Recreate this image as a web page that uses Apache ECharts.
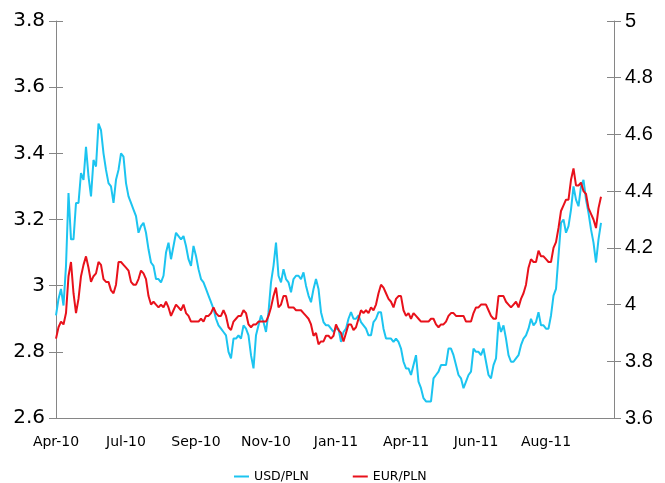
<!DOCTYPE html>
<html>
<head>
<meta charset="utf-8">
<script src="https://cdn.jsdelivr.net/npm/echarts@6/dist/echarts.min.js"></script>
<style>
  html, body { margin: 0; padding: 0; background: #fff; }
  #chart { width: 665px; height: 483px; }
</style>
</head>
<body>
<div id="chart"></div>
<script>
// Month labels shown along the date axis (one every 28 samples)
const tickLabels = ['Apr-10', 'Jul-10', 'Sep-10', 'Nov-10', 'Jan-11', 'Apr-11', 'Jun-11', 'Aug-11'];
const samplesPerLabel = 28;

// USD/PLN fixing, left axis
const usdPln = [
  2.91, 2.96, 2.99, 2.94, 3.06, 3.28, 3.14, 3.14, 3.25, 3.25,
  3.34, 3.32, 3.42, 3.33, 3.27, 3.38, 3.36, 3.49, 3.47, 3.40,
  3.35, 3.31, 3.30, 3.25, 3.32, 3.35, 3.40, 3.39, 3.31, 3.27,
  3.25, 3.23, 3.21, 3.16, 3.18, 3.19, 3.16, 3.11, 3.07, 3.06,
  3.02, 3.02, 3.01, 3.03, 3.10, 3.13, 3.08, 3.12, 3.16, 3.15,
  3.14, 3.15, 3.12, 3.08, 3.06, 3.12, 3.09, 3.05, 3.02, 3.01,
  2.99, 2.97, 2.95, 2.93, 2.90, 2.88, 2.87, 2.86, 2.85, 2.80,
  2.78, 2.84, 2.84, 2.85, 2.84, 2.88, 2.87, 2.85, 2.79, 2.75,
  2.85, 2.88, 2.91, 2.89, 2.86, 2.92, 3.01, 3.06, 3.13, 3.03,
  3.01, 3.05, 3.02, 3.01, 2.98, 3.02, 3.03, 3.03, 3.02, 3.04,
  3.00, 2.97, 2.95, 2.99, 3.02, 2.99, 2.92, 2.89, 2.88, 2.88,
  2.87, 2.86, 2.87, 2.87, 2.83, 2.86, 2.87, 2.90, 2.92, 2.90,
  2.90, 2.91, 2.89, 2.88, 2.87, 2.85, 2.85, 2.89, 2.90, 2.92,
  2.92, 2.87, 2.84, 2.84, 2.84, 2.83, 2.84, 2.83, 2.81, 2.77,
  2.75, 2.75, 2.73, 2.76, 2.79, 2.71, 2.69, 2.66, 2.65, 2.65,
  2.65, 2.72, 2.73, 2.74, 2.76, 2.76, 2.76, 2.81, 2.81, 2.79,
  2.76, 2.73, 2.72, 2.69, 2.71, 2.73, 2.74, 2.81, 2.80, 2.80,
  2.79, 2.81, 2.77, 2.73, 2.72, 2.76, 2.78, 2.89, 2.86, 2.88,
  2.84, 2.79, 2.77, 2.77, 2.78, 2.79, 2.82, 2.84, 2.85, 2.87,
  2.90, 2.88, 2.89, 2.92, 2.88, 2.88, 2.87, 2.87, 2.91, 2.97,
  2.99, 3.09, 3.19, 3.20, 3.16, 3.18, 3.23, 3.30, 3.26, 3.24,
  3.30, 3.32, 3.26, 3.22, 3.17, 3.13, 3.07, 3.14, 3.19
];

// EUR/PLN fixing, right axis
const eurPln = [
  3.88, 3.92, 3.94, 3.93, 3.97, 4.10, 4.15, 4.04, 3.97, 4.02,
  4.10, 4.14, 4.17, 4.13, 4.08, 4.10, 4.11, 4.15, 4.14, 4.09,
  4.08, 4.08, 4.05, 4.04, 4.07, 4.15, 4.15, 4.14, 4.13, 4.12,
  4.08, 4.07, 4.07, 4.09, 4.12, 4.11, 4.09, 4.03, 4.00, 4.01,
  4.00, 3.99, 4.00, 3.99, 4.01, 3.99, 3.96, 3.98, 4.00, 3.99,
  3.98, 4.00, 3.97, 3.96, 3.94, 3.94, 3.94, 3.94, 3.95, 3.94,
  3.96, 3.96, 3.97, 3.99, 3.97, 3.96, 3.96, 3.98, 3.96, 3.92,
  3.91, 3.94, 3.95, 3.96, 3.96, 3.98, 3.97, 3.93, 3.92, 3.93,
  3.93, 3.94, 3.94, 3.94, 3.94, 3.96, 3.99, 4.03, 4.06, 3.99,
  4.00, 4.03, 4.03, 3.99, 3.99, 3.99, 3.98, 3.98, 3.98, 3.97,
  3.96, 3.95, 3.93, 3.89, 3.90, 3.86, 3.87, 3.87, 3.89, 3.89,
  3.88, 3.89, 3.93, 3.91, 3.90, 3.87, 3.90, 3.93, 3.93, 3.91,
  3.92, 3.95, 3.98, 3.97, 3.98, 3.97, 3.99, 3.98, 4.00, 4.04,
  4.07, 4.06, 4.04, 4.02, 4.01, 3.99, 4.02, 4.03, 4.03, 3.98,
  3.96, 3.97, 3.95, 3.97, 3.96, 3.95, 3.94, 3.94, 3.94, 3.94,
  3.95, 3.95, 3.93, 3.92, 3.93, 3.93, 3.94, 3.96, 3.97, 3.97,
  3.96, 3.96, 3.96, 3.96, 3.94, 3.94, 3.94, 3.97, 3.99, 3.99,
  4.00, 4.00, 4.00, 3.98, 3.96, 3.95, 3.95, 4.03, 4.03, 4.03,
  4.01, 4.00, 3.99, 4.00, 4.01, 3.99, 4.02, 4.04, 4.07, 4.13,
  4.16, 4.15, 4.15, 4.19, 4.17, 4.17, 4.16, 4.15, 4.15, 4.20,
  4.22, 4.27, 4.33, 4.35, 4.37, 4.37, 4.44, 4.48, 4.42, 4.42,
  4.43, 4.40, 4.39, 4.34, 4.32, 4.30, 4.27, 4.34, 4.38
];

const seriesNames = ['USD/PLN', 'EUR/PLN'];
const colors = ['#1CC4F0', '#E8111B'];

const axisGray = '#868686';
const xSpan = 223.2; // sample slots across the plot width

const toPairs = arr => arr.map((v, i) => [i, v]);

const chart = echarts.init(document.getElementById('chart'), null, { renderer: 'canvas' });

const yCommon = {
  type: 'value',
  splitLine: { show: false },
  axisLine: { show: true, lineStyle: { color: axisGray, width: 1 } },
  axisTick: { show: true, length: 7, lineStyle: { color: axisGray } }
};

// inner half of the crossing tick marks
const innerTicks = (position, min, max) => ({
  type: 'value', position, min, max, interval: 0.2,
  splitLine: { show: false }, axisLine: { show: false }, axisLabel: { show: false },
  axisTick: { show: true, inside: true, length: 7, lineStyle: { color: axisGray } }
});

chart.setOption({
  animation: false,
  backgroundColor: '#fff',
  grid: { left: 56, right: 51, top: 21, bottom: 65, containLabel: false },
  legend: {
    data: seriesNames,
    left: 229,
    top: 465,
    itemWidth: 15,
    itemHeight: 2,
    itemGap: 44,
    icon: 'rect',
    textStyle: { fontFamily: 'DejaVu Sans', fontSize: 12.5, color: '#000' }
  },
  xAxis: {
    type: 'value',
    min: 0,
    max: xSpan,
    interval: samplesPerLabel,
    splitLine: { show: false },
    axisLine: { show: true, onZero: false, lineStyle: { color: axisGray, width: 1 } },
    axisTick: { show: false },
    axisLabel: {
      margin: 17,
      showMaxLabel: false,
      fontFamily: 'DejaVu Sans',
      fontSize: 14,
      color: '#000',
      formatter: v => {
        const k = Math.round(v / samplesPerLabel);
        return (Math.abs(v - k * samplesPerLabel) < 1e-6 && tickLabels[k]) ? tickLabels[k] : '';
      }
    }
  },
  yAxis: [
    Object.assign({}, yCommon, {
      position: 'left', min: 2.6, max: 3.8, interval: 0.2,
      axisLabel: { color: '#000', fontFamily: 'DejaVu Sans', fontSize: 20, margin: 11 }
    }),
    Object.assign({}, yCommon, {
      position: 'right', min: 3.6, max: 5, interval: 0.2,
      axisLabel: { color: '#000', fontFamily: 'Liberation Sans', fontSize: 20, margin: 11 }
    }),
    innerTicks('left', 2.6, 3.8),
    innerTicks('right', 3.6, 5)
  ],
  series: [
    {
      name: seriesNames[0], type: 'line', yAxisIndex: 0,
      data: toPairs(usdPln), showSymbol: false, symbol: 'none',
      lineStyle: { color: colors[0], width: 2 }, itemStyle: { color: colors[0] }
    },
    {
      name: seriesNames[1], type: 'line', yAxisIndex: 1,
      data: toPairs(eurPln), showSymbol: false, symbol: 'none',
      lineStyle: { color: colors[1], width: 2 }, itemStyle: { color: colors[1] }
    }
  ]
});
</script>
</body>
</html>
